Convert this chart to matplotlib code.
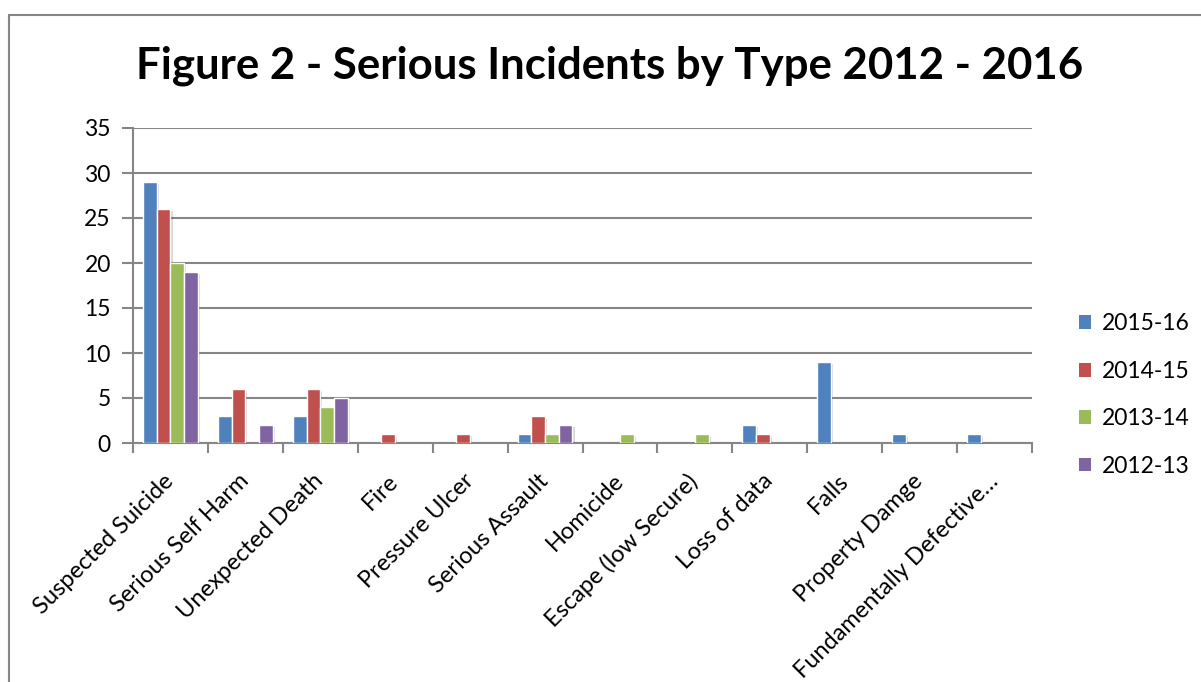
import matplotlib
matplotlib.use("Agg")
import matplotlib.pyplot as plt
import matplotlib.patheffects as pe
from matplotlib.patches import Rectangle
import numpy as np

categories = ["Suspected Suicide", "Serious Self Harm", "Unexpected Death", "Fire",
              "Pressure Ulcer", "Serious Assault", "Homicide", "Escape (low Secure)",
              "Loss of data", "Falls", "Property Damge", "Fundamentally Defective\u2026"]
series_names = ["2015-16", "2014-15", "2013-14", "2012-13"]
v_2015_16 = [29, 3, 3, 0, 0, 1, 0, 0, 2, 9, 1, 1]
v_2014_15 = [26, 6, 6, 1, 1, 3, 0, 0, 1, 0, 0, 0]
v_2013_14 = [20, 0, 4, 0, 0, 1, 1, 1, 0, 0, 0, 0]
v_2012_13 = [19, 2, 5, 0, 0, 2, 0, 0, 0, 0, 0, 0]
yticks = [0, 5, 10, 15, 20, 25, 30, 35]
colors = ["#4F81BD", "#C0504D", "#9BBB59", "#8064A2"]

plt.rcParams['font.family'] = ['Lato', 'DejaVu Sans']

fig = plt.figure(figsize=(12.01, 6.82), dpi=100)
fig.patches.append(Rectangle((9/1201, -0.1), 1.2, 1 - 15/682 + 0.1, transform=fig.transFigure,
                             fill=False, edgecolor="#868686", linewidth=1.5))

ax = fig.add_axes([133/1201, 1 - 443/682, (1032 - 133)/1201, (443 - 128)/682])
x = np.arange(len(categories))
w = 0.183
all_vals = [v_2015_16, v_2014_15, v_2013_14, v_2012_13]
for i, (vals, c, name) in enumerate(zip(all_vals, colors, series_names)):
    bars = ax.bar(x + (i - 1.5) * w, vals, width=w, color=c, edgecolor="white",
                  linewidth=1.0, label=name, zorder=3)
    for b, v in zip(bars, vals):
        if v > 0:
            b.set_path_effects([pe.SimplePatchShadow(offset=(1.5, -1.5), shadow_rgbFace="#000000", alpha=0.15),
                                pe.Normal()])
        else:
            b.set_visible(False)

ax.set_xlim(-0.5, len(categories) - 0.5)
ax.set_ylim(0, 35)
ax.set_yticks(yticks)
ax.set_yticklabels([str(t) for t in yticks], fontsize=16.5)
ax.grid(axis="y", color="#868686", linewidth=1.5, zorder=0)
ax.set_axisbelow(True)
ax.set_xticks(x)
ax.set_xticklabels(categories, rotation=45, ha="right", va="center", rotation_mode="anchor", fontsize=17)
ax.tick_params(axis="x", which="major", length=0, pad=25)
ax.set_xticks(np.arange(-0.5, len(categories)), minor=True)
ax.tick_params(axis="x", which="minor", length=7, width=1.5, color="#868686", direction="out")
ax.tick_params(axis="y", length=8, width=1.5, color="#868686", pad=8)
for s in ["top", "right"]:
    ax.spines[s].set_visible(False)
for s in ["left", "bottom"]:
    ax.spines[s].set_color("#868686")
    ax.spines[s].set_linewidth(1.5)

fig.text(0.508, 0.903, "Figure 2 - Serious Incidents by Type 2012 - 2016", ha="center", va="center",
         fontsize=31.5, fontweight="bold")

handles, labels = ax.get_legend_handles_labels()
leg = fig.legend(handles, labels, loc="center left", bbox_to_anchor=(1058/1201, 1 - 395/682),
                 frameon=False, fontsize=16.5, handlelength=0.55, handleheight=0.55,
                 labelspacing=1.15, handletextpad=0.45)
for h in leg.legend_handles:
    h.set_path_effects([])
    h.set_edgecolor("none")
    h.set_visible(True)

fig.savefig("out.png", dpi=100)
